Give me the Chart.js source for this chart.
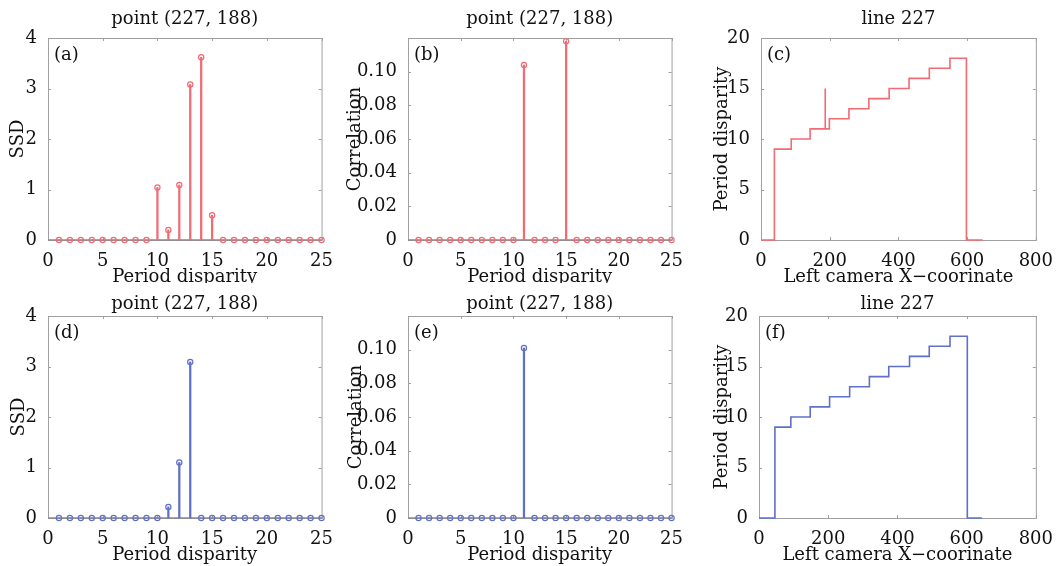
<!DOCTYPE html>
<html>
<head>
<meta charset="utf-8">
<script src="https://cdn.jsdelivr.net/npm/chart.js@4.4.0/dist/chart.umd.min.js"></script>
<style>
  body { margin: 0; background: #fff; width: 1056px; height: 566px; overflow: hidden; position: relative; }
  canvas { position: absolute; }
  .lower { background: #fff; }
</style>
</head>
<body>
<canvas id="pa" width="336" height="288" style="left:0px;top:0px"></canvas>
<canvas id="pb" width="346" height="288" style="left:340px;top:0px"></canvas>
<canvas id="pc" width="356" height="288" style="left:700px;top:0px"></canvas>
<canvas id="pd" class="lower" width="336" height="283" style="left:0px;top:283px"></canvas>
<canvas id="pe" class="lower" width="346" height="283" style="left:340px;top:283px"></canvas>
<canvas id="pf" class="lower" width="356" height="283" style="left:700px;top:283px"></canvas>
<script>
// disparity candidates 1..25
const disparity = [1,2,3,4,5,6,7,8,9,10,11,12,13,14,15,16,17,18,19,20,21,22,23,24,25];

// (a) SSD, red
const ssdA = [0,0,0,0,0,0,0,0,0,1.04,0.2,1.09,3.08,3.62,0.49,0,0,0,0,0,0,0,0,0,0];
// (b) correlation, red
const corrB = [0,0,0,0,0,0,0,0,0,0,0.104,0,0,0,0.118,0,0,0,0,0,0,0,0,0,0];
// (d) SSD, blue
const ssdD = [0,0,0,0,0,0,0,0,0,0,0.22,1.1,3.09,0,0,0,0,0,0,0,0,0,0,0,0];
// (e) correlation, blue
const corrE = [0,0,0,0,0,0,0,0,0,0,0.101,0,0,0,0,0,0,0,0,0,0,0,0,0,0];

// (c) disparity along line 227, red (step breakpoints)
const lineCX = [0, 39, 88, 143, 187, 187, 199, 256, 314, 373, 431, 490, 550, 598, 645];
const lineCY = [0, 9, 10, 11, 15, 11, 12, 13, 14, 15, 16, 17, 18, 0, 0];
// (f) disparity along line 227, blue
const lineFX = [0, 46, 92, 148, 204, 262, 319, 375, 435, 492, 552, 602, 644];
const lineFY = [0, 9, 10, 11, 12, 13, 14, 15, 16, 17, 18, 0, 0];

const RED = '#f26a73';
const BLUE = '#5f70c8';
const INK = '#111';
const font = { family: '"DejaVu Serif", serif', size: 18 };

// box around plot area, inner tick marks, panel letter
const frame = {
  id: 'frame',
  beforeDatasetsDraw(chart, args, opts) {
    const { ctx, chartArea: a, scales: { x, y } } = chart;
    ctx.save();
    ctx.strokeStyle = '#a0a0a0';
    ctx.lineWidth = 1;
    ctx.strokeRect(a.left + 0.5, a.top + 0.5, a.width, a.height);
    ctx.beginPath();
    x.ticks.forEach(t => {
      const px = Math.round(x.getPixelForValue(t.value)) + 0.5;
      ctx.moveTo(px, a.bottom); ctx.lineTo(px, a.bottom - 3);
      ctx.moveTo(px, a.top); ctx.lineTo(px, a.top + 3);
    });
    y.ticks.forEach(t => {
      const py = Math.round(y.getPixelForValue(t.value)) + 0.5;
      ctx.moveTo(a.left, py); ctx.lineTo(a.left + 3, py);
      ctx.moveTo(a.right, py); ctx.lineTo(a.right - 3, py);
    });
    ctx.stroke();
    if (opts.baseline) {
      const py = y.getPixelForValue(0);
      ctx.strokeStyle = '#8a8a8a';
      ctx.lineWidth = 1.6;
      ctx.beginPath(); ctx.moveTo(a.left, py); ctx.lineTo(a.right, py); ctx.stroke();
    }
    ctx.restore();
  },
  afterDraw(chart, args, opts) {
    const { ctx, chartArea: a } = chart;
    ctx.save();
    ctx.font = '18px "DejaVu Serif", serif';
    ctx.fillStyle = INK;
    ctx.textBaseline = 'middle';
    ctx.fillText(opts.label, a.left + 6, a.top + 17);
    ctx.restore();
  }
};

const xAxis = (min, max, step, text) => ({
  type: 'linear', min, max, offset: false,
  ticks: { stepSize: step, padding: 3, color: INK, font, maxRotation: 0, autoSkip: false },
  grid: { display: false }, border: { display: false },
  title: { display: true, text, color: INK, font, padding: { top: 0, bottom: 0 } },
  afterFit(s) { s.height = 48; }
});

const yAxis = (min, max, step, text, width, pad, fmt) => ({
  type: 'linear', min, max,
  ticks: { stepSize: step, padding: 3, color: INK, font, callback: fmt },
  grid: { display: false }, border: { display: false },
  title: { display: true, text, color: INK, font, padding: { top: pad, bottom: 0 } },
  afterFit(s) { s.width = width; }
});

const corrFmt = v => v === 0 ? '0' : (v > 0.11 ? '' : v.toFixed(2));

function baseOptions(title, titlePad, padRight, scales, label, baseline) {
  return {
    responsive: false, animation: false, devicePixelRatio: 1,
    layout: { padding: { left: 0, right: padRight, top: 0, bottom: 0 } },
    plugins: {
      legend: { display: false }, tooltip: { enabled: false },
      title: { display: true, fullSize: false, text: title, color: INK, font: { ...font, weight: 'normal' }, padding: titlePad },
      frame: { label, baseline }
    },
    scales
  };
}

function stemChart(id, values, color, yAx, title, titlePad, label) {
  return new Chart(document.getElementById(id), {
    type: 'scatter',
    data: {
      datasets: [
        {
          type: 'bar', order: 2,
          data: disparity.map((d, i) => ({ x: d, y: values[i] })),
          backgroundColor: color, borderWidth: 0, barThickness: 1.6, clip: false
        },
        {
          type: 'scatter', order: 1,
          data: disparity.map((d, i) => ({ x: d, y: values[i] })),
          pointStyle: 'circle', pointRadius: 2.6, pointBorderWidth: 1.2,
          borderColor: color, pointBackgroundColor: 'rgba(255,255,255,0)', clip: false
        }
      ]
    },
    options: baseOptions(title, titlePad, 14, { x: xAxis(0, 25, 5, 'Period disparity'), y: yAx }, label, true),
    plugins: [frame]
  });
}

function stepChart(id, xs, ys, color, yW, yPad, title, titlePad, label) {
  return new Chart(document.getElementById(id), {
    type: 'line',
    data: {
      datasets: [{
        data: xs.map((x, i) => ({ x, y: ys[i] })),
        borderColor: color, borderWidth: 1.6, stepped: 'before',
        pointRadius: 0, fill: false, clip: false
      }]
    },
    options: baseOptions(title, titlePad, 20, {
      x: xAxis(0, 800, 200, 'Left camera X\u2212coorinate'),
      y: yAxis(0, 20, 5, 'Period disparity', yW, yPad)
    }, label, false),
    plugins: [frame]
  });
}

const topPad = { top: 8.5, bottom: 7.9 };
const lowPad = { top: 11, bottom: 0.4 };

stemChart('pa', ssdA, RED, yAxis(0, 4, 1, 'SSD', 48, 7.2), 'point (227, 188)', topPad, '(a)');
stemChart('pb', corrB, RED, yAxis(0, 0.12, 0.02, 'Correlation', 68, 4.2, corrFmt), 'point (227, 188)', topPad, '(b)');
stepChart('pc', lineCX, lineCY, RED, 61, 11.2, 'line 227', topPad, '(c)');
stemChart('pd', ssdD, BLUE, yAxis(0, 4, 1, 'SSD', 48, 8.2), 'point (227, 188)', lowPad, '(d)');
stemChart('pe', corrE, BLUE, yAxis(0, 0.12, 0.02, 'Correlation', 68, 5.2, corrFmt), 'point (227, 188)', lowPad, '(e)');
stepChart('pf', lineFX, lineFY, BLUE, 59, 11.7, 'line 227', lowPad, '(f)');
</script>
</body>
</html>
